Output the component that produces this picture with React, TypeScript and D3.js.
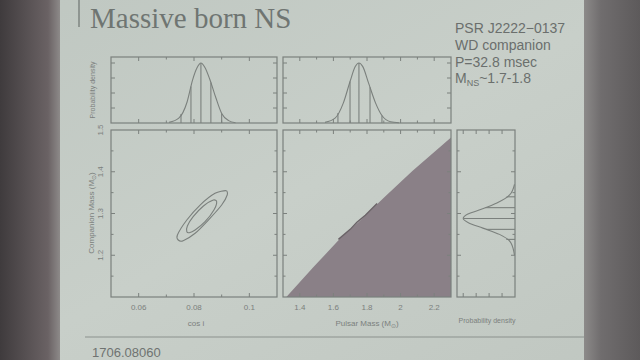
import React from "react";
import * as d3 from "d3";

// axis ticks
const cosMajor = [0.06, 0.08, 0.1];
const cosMinor = [0.05, 0.07, 0.09, 0.11];
const massMajor = [1.4, 1.6, 1.8, 2.0, 2.2];
const massMinor = [1.3, 1.5, 1.7, 1.9, 2.1, 2.3];
const compMajor = [1.2, 1.3, 1.4, 1.5];
const compMinor = [1.15, 1.25, 1.35, 1.45];
const densTicks = [0.25, 0.5, 0.75, 1.0];

// marginal pdfs (value, relative density)
const cosPdf: [number, number][] = [
  [0.071, 0.01], [0.0745, 0.08], [0.0775, 0.35], [0.0795, 0.72], [0.0811, 0.92],
  [0.0825, 1.0], [0.0839, 0.93], [0.0857, 0.73], [0.0879, 0.42], [0.09, 0.16],
  [0.0925, 0.04], [0.095, 0.005],
];
const cosQuantiles = [0.0753, 0.0789, 0.0825, 0.0861, 0.09];

const massPdf: [number, number][] = [
  [1.55, 0.01], [1.61, 0.08], [1.66, 0.34], [1.7, 0.7], [1.73, 0.94],
  [1.752, 1.0], [1.775, 0.94], [1.81, 0.66], [1.85, 0.34], [1.89, 0.12],
  [1.94, 0.02], [1.99, 0.003],
];
const massQuantiles = [1.627, 1.699, 1.752, 1.818, 1.889];

const compPdf: [number, number][] = [
  [1.2, 0.01], [1.23, 0.08], [1.25, 0.3], [1.265, 0.62], [1.278, 0.9],
  [1.288, 1.0], [1.298, 0.92], [1.31, 0.65], [1.325, 0.35], [1.345, 0.1],
  [1.37, 0.01],
];
const compQuantiles = [1.238, 1.262, 1.288, 1.314, 1.34];

// 2D contours (cos i, companion mass)
const outerContour: [number, number][] = [
  [0.0743, 1.2365], [0.074, 1.2485], [0.0774, 1.2844], [0.0822, 1.3203],
  [0.0876, 1.3484], [0.0916, 1.3546], [0.092, 1.3443], [0.09, 1.3203],
  [0.0852, 1.2844], [0.0804, 1.2526], [0.0761, 1.2348],
];
const innerContour: [number, number][] = [
  [0.0774, 1.2564], [0.0776, 1.27], [0.0797, 1.2923], [0.0834, 1.3179],
  [0.087, 1.3323], [0.0882, 1.3282], [0.0872, 1.3084], [0.084, 1.2803],
  [0.0804, 1.2605], [0.0783, 1.254],
];

// excluded region boundary (pulsar mass, companion mass)
const boundary: [number, number][] = [
  [1.32, 1.1], [1.48, 1.171], [1.64, 1.24], [1.76, 1.283],
  [1.9, 1.338], [2.07, 1.402], [2.3, 1.482],
];
const edgeContour: [number, number][] = [
  [1.63, 1.238], [1.7, 1.262], [1.74, 1.279], [1.79, 1.296], [1.86, 1.324],
];

const INK = "#7b807d";
const FONT = "'Liberation Sans', Arial, sans-serif";

type Scale = d3.ScaleLinear<number, number>;

function Frame({ x, y, xMajor, xMinor, yMajor, yMinor }: {
  x: Scale; y: Scale; xMajor: number[]; xMinor: number[]; yMajor: number[]; yMinor: number[];
}) {
  const [x0, x1] = x.range().slice().sort((a, b) => a - b);
  const [y0, y1] = y.range().slice().sort((a, b) => a - b);
  const ticks: JSX.Element[] = [];
  const addX = (vals: number[], len: number, k: string) =>
    vals.forEach((v, i) => {
      const px = x(v);
      if (px <= x0 + 1 || px >= x1 - 1) return;
      ticks.push(<line key={k + "b" + i} x1={px} x2={px} y1={y1} y2={y1 - len} />);
      ticks.push(<line key={k + "t" + i} x1={px} x2={px} y1={y0} y2={y0 + len} />);
    });
  const addY = (vals: number[], len: number, k: string) =>
    vals.forEach((v, i) => {
      const py = y(v);
      if (py <= y0 + 1 || py >= y1 - 1) return;
      ticks.push(<line key={k + "l" + i} y1={py} y2={py} x1={x0} x2={x0 + len} />);
      ticks.push(<line key={k + "r" + i} y1={py} y2={py} x1={x1} x2={x1 - len} />);
    });
  addX(xMajor, 4, "xm");
  addX(xMinor, 2.5, "xn");
  addY(yMajor, 4, "ym");
  addY(yMinor, 2.5, "yn");
  return (
    <g stroke={INK} strokeWidth={1} fill="none">
      <rect x={x0} y={y0} width={x1 - x0} height={y1 - y0} strokeWidth={1.2} />
      {ticks}
    </g>
  );
}

export default function App() {
  // panel scales
  const xCos = d3.scaleLinear().domain([0.05, 0.11]).range([111, 277]);
  const xMass = d3.scaleLinear().domain([1.3, 2.3]).range([283, 451]);
  const yComp = d3.scaleLinear().domain([1.1, 1.5]).range([297, 130]);
  const yDens = d3.scaleLinear().domain([0, 1.1]).range([123, 57]);
  const xDens = d3.scaleLinear().domain([0, 1.12]).range([515, 457]);

  const interp = (pdf: [number, number][], v: number) => {
    const xs = pdf.map((d) => d[0]);
    const ys = pdf.map((d) => d[1]);
    return d3.scaleLinear().domain(xs).range(ys).clamp(true)(v);
  };

  const topLine = (sx: Scale) =>
    d3.line<[number, number]>().x((d) => sx(d[0])).y((d) => yDens(d[1])).curve(d3.curveMonotoneX);
  const sideLine = d3.line<[number, number]>()
    .x((d) => xDens(d[1])).y((d) => yComp(d[0])).curve(d3.curveMonotoneY);
  const contour = d3.line<[number, number]>()
    .x((d) => xCos(d[0])).y((d) => yComp(d[1])).curve(d3.curveCardinalClosed.tension(0.3));
  const massLine = d3.line<[number, number]>()
    .x((d) => xMass(d[0])).y((d) => yComp(d[1]));

  const fillPts: [number, number][] = [...boundary, [2.3, 1.1]];

  const tickText = { fontFamily: FONT, fontSize: 8, fill: INK } as const;
  const sun = "\u2299";

  return (
    <svg width={640} height={360} style={{ position: "fixed", left: 0, top: 0 }}>
      <defs>
        <linearGradient id="slide" x1="0" x2="1" y1="0" y2="1">
          <stop offset="0" stopColor="#bfc7c1" />
          <stop offset="0.5" stopColor="#c8cfc9" />
          <stop offset="1" stopColor="#c0c7c1" />
        </linearGradient>
        <linearGradient id="leftBand" x1="0" x2="1">
          <stop offset="0" stopColor="#3f3b3d" />
          <stop offset="0.8" stopColor="#6a6264" />
          <stop offset="1" stopColor="#8d8a89" />
        </linearGradient>
        <linearGradient id="rightBand" x1="0" x2="1">
          <stop offset="0" stopColor="#8c8a89" />
          <stop offset="0.3" stopColor="#706d6e" />
          <stop offset="1" stopColor="#5d5a5b" />
        </linearGradient>
      </defs>
      <rect x={0} y={0} width={640} height={360} fill="url(#slide)" />
      <rect x={0} y={0} width={60} height={360} fill="url(#leftBand)" />
      <rect x={584} y={0} width={56} height={360} fill="url(#rightBand)" />

      {/* title block */}
      <line x1={79} x2={79} y1={0} y2={27} stroke="#7e8481" strokeWidth={1.5} />
      <text x={90} y={28} fontFamily="'Liberation Serif', 'DejaVu Serif', serif" fontSize={29} fill="#6f7572">
        Massive born NS
      </text>

      <g fontFamily={FONT} fontSize={14} fill="#6b6f6d">
        <text x={455} y={33}>PSR J2222{"\u2212"}0137</text>
        <text x={455} y={50}>WD companion</text>
        <text x={455} y={67}>P=32.8 msec</text>
        <text x={455} y={83}>
          M<tspan fontSize={9} dy={3}>NS</tspan><tspan dy={-3}>~1.7-1.8</tspan>
        </text>
      </g>

      {/* top-left: cos i pdf */}
      <g fill="none" stroke={INK} strokeWidth={1.1}>
        <path d={topLine(xCos)(cosPdf) ?? ""} />
        {cosQuantiles.map((q, i) => (
          <line key={i} x1={xCos(q)} x2={xCos(q)} y1={yDens(0)} y2={yDens(interp(cosPdf, q))} />
        ))}
        <path d={topLine(xMass)(massPdf) ?? ""} />
        {massQuantiles.map((q, i) => (
          <line key={i} x1={xMass(q)} x2={xMass(q)} y1={yDens(0)} y2={yDens(interp(massPdf, q))} />
        ))}
        <path d={sideLine(compPdf) ?? ""} />
        {compQuantiles.map((q, i) => (
          <line key={i} y1={yComp(q)} y2={yComp(q)} x1={xDens(0)} x2={xDens(interp(compPdf, q))} />
        ))}
        <path d={contour(outerContour) ?? ""} />
        <path d={contour(innerContour) ?? ""} />
      </g>

      {/* excluded region */}
      <path d={(massLine(fillPts) ?? "") + "Z"} fill="#8a8087" />
      <path d={massLine(edgeContour) ?? ""} fill="none" stroke="#6a6267" strokeWidth={1.4} />

      <Frame x={xCos} y={yDens} xMajor={cosMajor} xMinor={cosMinor} yMajor={densTicks} yMinor={[]} />
      <Frame x={xMass} y={yDens} xMajor={massMajor} xMinor={massMinor} yMajor={densTicks} yMinor={[]} />
      <Frame x={xCos} y={yComp} xMajor={cosMajor} xMinor={cosMinor} yMajor={compMajor} yMinor={compMinor} />
      <Frame x={xMass} y={yComp} xMajor={massMajor} xMinor={massMinor} yMajor={compMajor} yMinor={compMinor} />
      <Frame x={xDens} y={yComp} xMajor={densTicks} xMinor={[]} yMajor={compMajor} yMinor={compMinor} />

      {/* tick labels */}
      {cosMajor.map((v) => (
        <text key={v} x={xCos(v)} y={310} textAnchor="middle" {...tickText}>{String(v)}</text>
      ))}
      {massMajor.map((v) => (
        <text key={v} x={xMass(v)} y={310} textAnchor="middle" {...tickText}>{d3.format("~g")(v)}</text>
      ))}
      {compMajor.map((v) => (
        <text key={v} transform={`translate(103,${yComp(v)}) rotate(-90)`} textAnchor="middle" {...tickText}>
          {String(v)}
        </text>
      ))}

      {/* axis titles */}
      <text x={196} y={326} textAnchor="middle" {...tickText}>cos i</text>
      <text x={367} y={326} textAnchor="middle" {...tickText}>
        Pulsar Mass (M<tspan fontSize={6} dy={2}>{sun}</tspan><tspan dy={-2}>)</tspan>
      </text>
      <text x={487} y={323} textAnchor="middle" {...tickText} fontSize={7}>Probability density</text>
      <text transform="translate(94,213) rotate(-90)" textAnchor="middle" {...tickText}>
        Companion Mass (M<tspan fontSize={6} dy={2}>{sun}</tspan><tspan dy={-2}>)</tspan>
      </text>
      <text transform="translate(95,90) rotate(-90)" textAnchor="middle" {...tickText} fontSize={7}>
        Probability density
      </text>

      {/* footer */}
      <line x1={85} x2={584} y1={337} y2={337} stroke="#8c918e" strokeWidth={1.2} />
      <text x={92} y={357} fontFamily={FONT} fontSize={13} fill="#6f7371">1706.08060</text>
    </svg>
  );
}
